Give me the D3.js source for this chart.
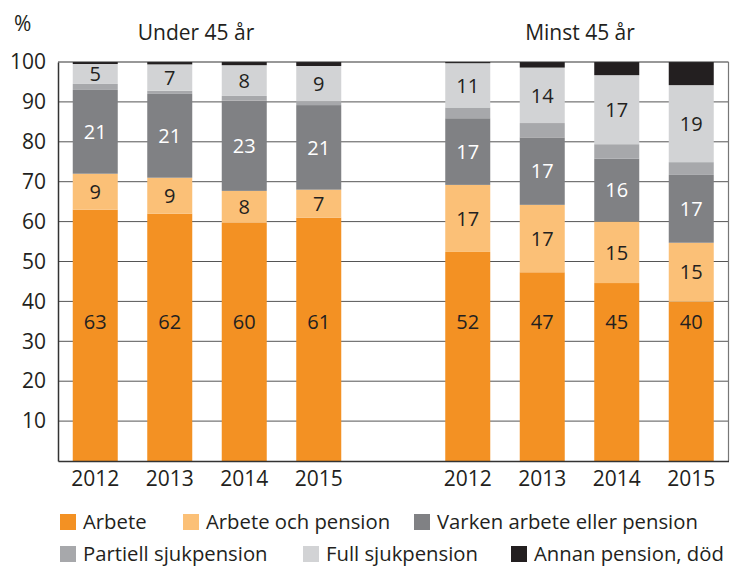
<!DOCTYPE html>
<html>
<head>
<meta charset="utf-8">
<script src="https://cdn.jsdelivr.net/npm/d3@7"></script>
<style>
  body { margin: 0; background: #fff; }
  svg { display: block; font-family: "Open Sans", sans-serif; }
</style>
</head>
<body>
<div id="chart"></div>
<script>
// groups and years along the x axis
const groups = ["Under 45 år", "Minst 45 år"];
const years = ["2012", "2013", "2014", "2015"];

// series names (bottom to top)
const seriesNames = ["Arbete", "Arbete och pension", "Varken arbete eller pension",
                     "Partiell sjukpension", "Full sjukpension", "Annan pension, död"];

// values per bar: Under 45 år 2012-2015, then Minst 45 år 2012-2015 (%)
const arbete           = [63, 62, 59.8, 61, 52.4, 47.3, 44.6, 39.9];
const arbeteOchPension = [9, 9, 7.9, 7, 16.8, 16.9, 15.4, 14.8];
const varken           = [21, 21, 22.6, 21.2, 16.7, 16.9, 15.8, 17.0];
const partiell         = [1.5, 0.8, 1.2, 1.0, 2.7, 3.6, 3.6, 3.2];
const fullSjuk         = [5, 6.6, 7.7, 8.8, 11.1, 13.9, 17.3, 19.3];
const annan            = [0.5, 0.6, 0.8, 1.0, 0.3, 1.4, 3.3, 5.8];

const yTicks = [10, 20, 30, 40, 50, 60, 70, 80, 90, 100];

// which series get a number printed in the bar
const labelled = ["Arbete", "Arbete och pension", "Varken arbete eller pension", "Full sjukpension"];

const colors = ["#f39123", "#fbc077", "#808184", "#a7a8ab", "#d2d3d5", "#231f20"];
const textColors = ["#231f20", "#231f20", "#ffffff", "#231f20", "#231f20", "#ffffff"];

const w = 731, h = 568;
const mLeft = 58, mRight = 728.5, mTop = 62, mBottom = 461;

// build the table the stack needs
const allValues = [arbete, arbeteOchPension, varken, partiell, fullSjuk, annan];
const rows = [];
groups.forEach((g, gi) => {
  years.forEach((yr, yi) => {
    const i = gi * years.length + yi;
    const row = { key: g + "|" + yr, group: g, year: yr };
    seriesNames.forEach((s, si) => { row[s] = allValues[si][i]; });
    rows.push(row);
  });
});

// slots: 4 bars, an empty slot, 4 bars
const slots = rows.slice(0, 4).map(d => d.key).concat(["gap"], rows.slice(4).map(d => d.key));

const x = d3.scaleBand().domain(slots).range([mLeft, mRight]).paddingInner(0.396).paddingOuter(0.198);
const y = d3.scaleLinear().domain([0, 100]).range([mBottom, mTop]);

const stacked = d3.stack().keys(seriesNames)(rows);

const svg = d3.select("#chart").append("svg").attr("width", w).attr("height", h);

// grid lines
svg.append("g")
   .selectAll("line")
   .data(yTicks.filter(t => t < 100))
   .enter()
   .append("line")
   .attr("x1", mLeft).attr("x2", mRight)
   .attr("y1", d => y(d)).attr("y2", d => y(d))
   .attr("stroke", "#555")
   .attr("stroke-width", 1);

// bars
const layers = svg.append("g")
   .selectAll("g")
   .data(stacked)
   .enter()
   .append("g")
   .attr("fill", (d, i) => colors[i]);

layers.selectAll("rect")
   .data(d => d)
   .enter()
   .append("rect")
   .attr("x", d => x(d.data.key))
   .attr("width", x.bandwidth())
   .attr("y", d => y(d[1]))
   .attr("height", d => y(d[0]) - y(d[1]));

// value labels (the bottom series is labelled at one common height)
stacked.forEach((layer, si) => {
  if (!labelled.includes(layer.key)) return;
  svg.append("g")
     .selectAll("text")
     .data(layer)
     .enter()
     .append("text")
     .attr("x", d => x(d.data.key) + x.bandwidth() / 2)
     .attr("y", d => si === 0 ? y(35) : y((d[0] + d[1]) / 2))
     .attr("dy", "0.36em")
     .attr("text-anchor", "middle")
     .attr("font-size", 20)
     .attr("fill", textColors[si])
     .text(d => Math.round(d[1] - d[0]));
});

// frame
const frame = svg.append("g").attr("stroke", "#333").attr("fill", "none");
frame.append("line").attr("x1", mLeft).attr("x2", mRight).attr("y1", y(100)).attr("y2", y(100)).attr("stroke-width", 1.2);
frame.append("line").attr("x1", mRight).attr("x2", mRight).attr("y1", mTop).attr("y2", mBottom).attr("stroke", "#777").attr("stroke-width", 1.2);

// y axis
const yAxis = d3.axisLeft(y).tickValues(yTicks).tickSize(0).tickPadding(12);
svg.append("g")
   .attr("transform", `translate(${mLeft},0)`)
   .call(yAxis)
   .call(g => g.select(".domain").attr("stroke", "#333").attr("stroke-width", 1.5))
   .call(g => g.selectAll("text").attr("font-size", 21).attr("fill", "#231f20").attr("font-family", "Open Sans"));

// x axis
const xAxis = d3.axisBottom(x).tickSize(0).tickPadding(10).tickFormat(k => k.split("|")[1]);
svg.append("g")
   .attr("transform", `translate(0,${mBottom})`)
   .call(xAxis)
   .call(g => g.select(".domain").attr("stroke", "#333").attr("stroke-width", 1.5))
   .call(g => g.selectAll(".tick").filter(d => d === "gap").remove())
   .call(g => g.selectAll("text").attr("font-size", 21).attr("fill", "#231f20").attr("font-family", "Open Sans"));

// unit
svg.append("text").attr("x", 14).attr("y", 31).attr("font-size", 21).attr("fill", "#231f20").text("%");

// group titles
const titleX = [196, 580];
svg.selectAll(".title")
   .data(groups)
   .enter()
   .append("text")
   .attr("class", "title")
   .attr("x", (d, i) => titleX[i])
   .attr("y", 40)
   .attr("text-anchor", "middle")
   .attr("font-size", 21)
   .attr("fill", "#231f20")
   .text(d => d);

// legend
const legendPos = [[60, 514], [183, 514], [414, 514], [60, 546], [303, 546], [511, 546]];
const legend = svg.append("g")
   .selectAll("g")
   .data(seriesNames)
   .enter()
   .append("g")
   .attr("transform", (d, i) => `translate(${legendPos[i][0]},${legendPos[i][1]})`);

legend.append("rect")
   .attr("width", 16).attr("height", 16)
   .attr("fill", (d, i) => colors[i]);

legend.append("text")
   .attr("x", 23).attr("y", 15)
   .attr("font-size", 20.3)
   .attr("fill", "#231f20")
   .text(d => d);
</script>
</body>
</html>
